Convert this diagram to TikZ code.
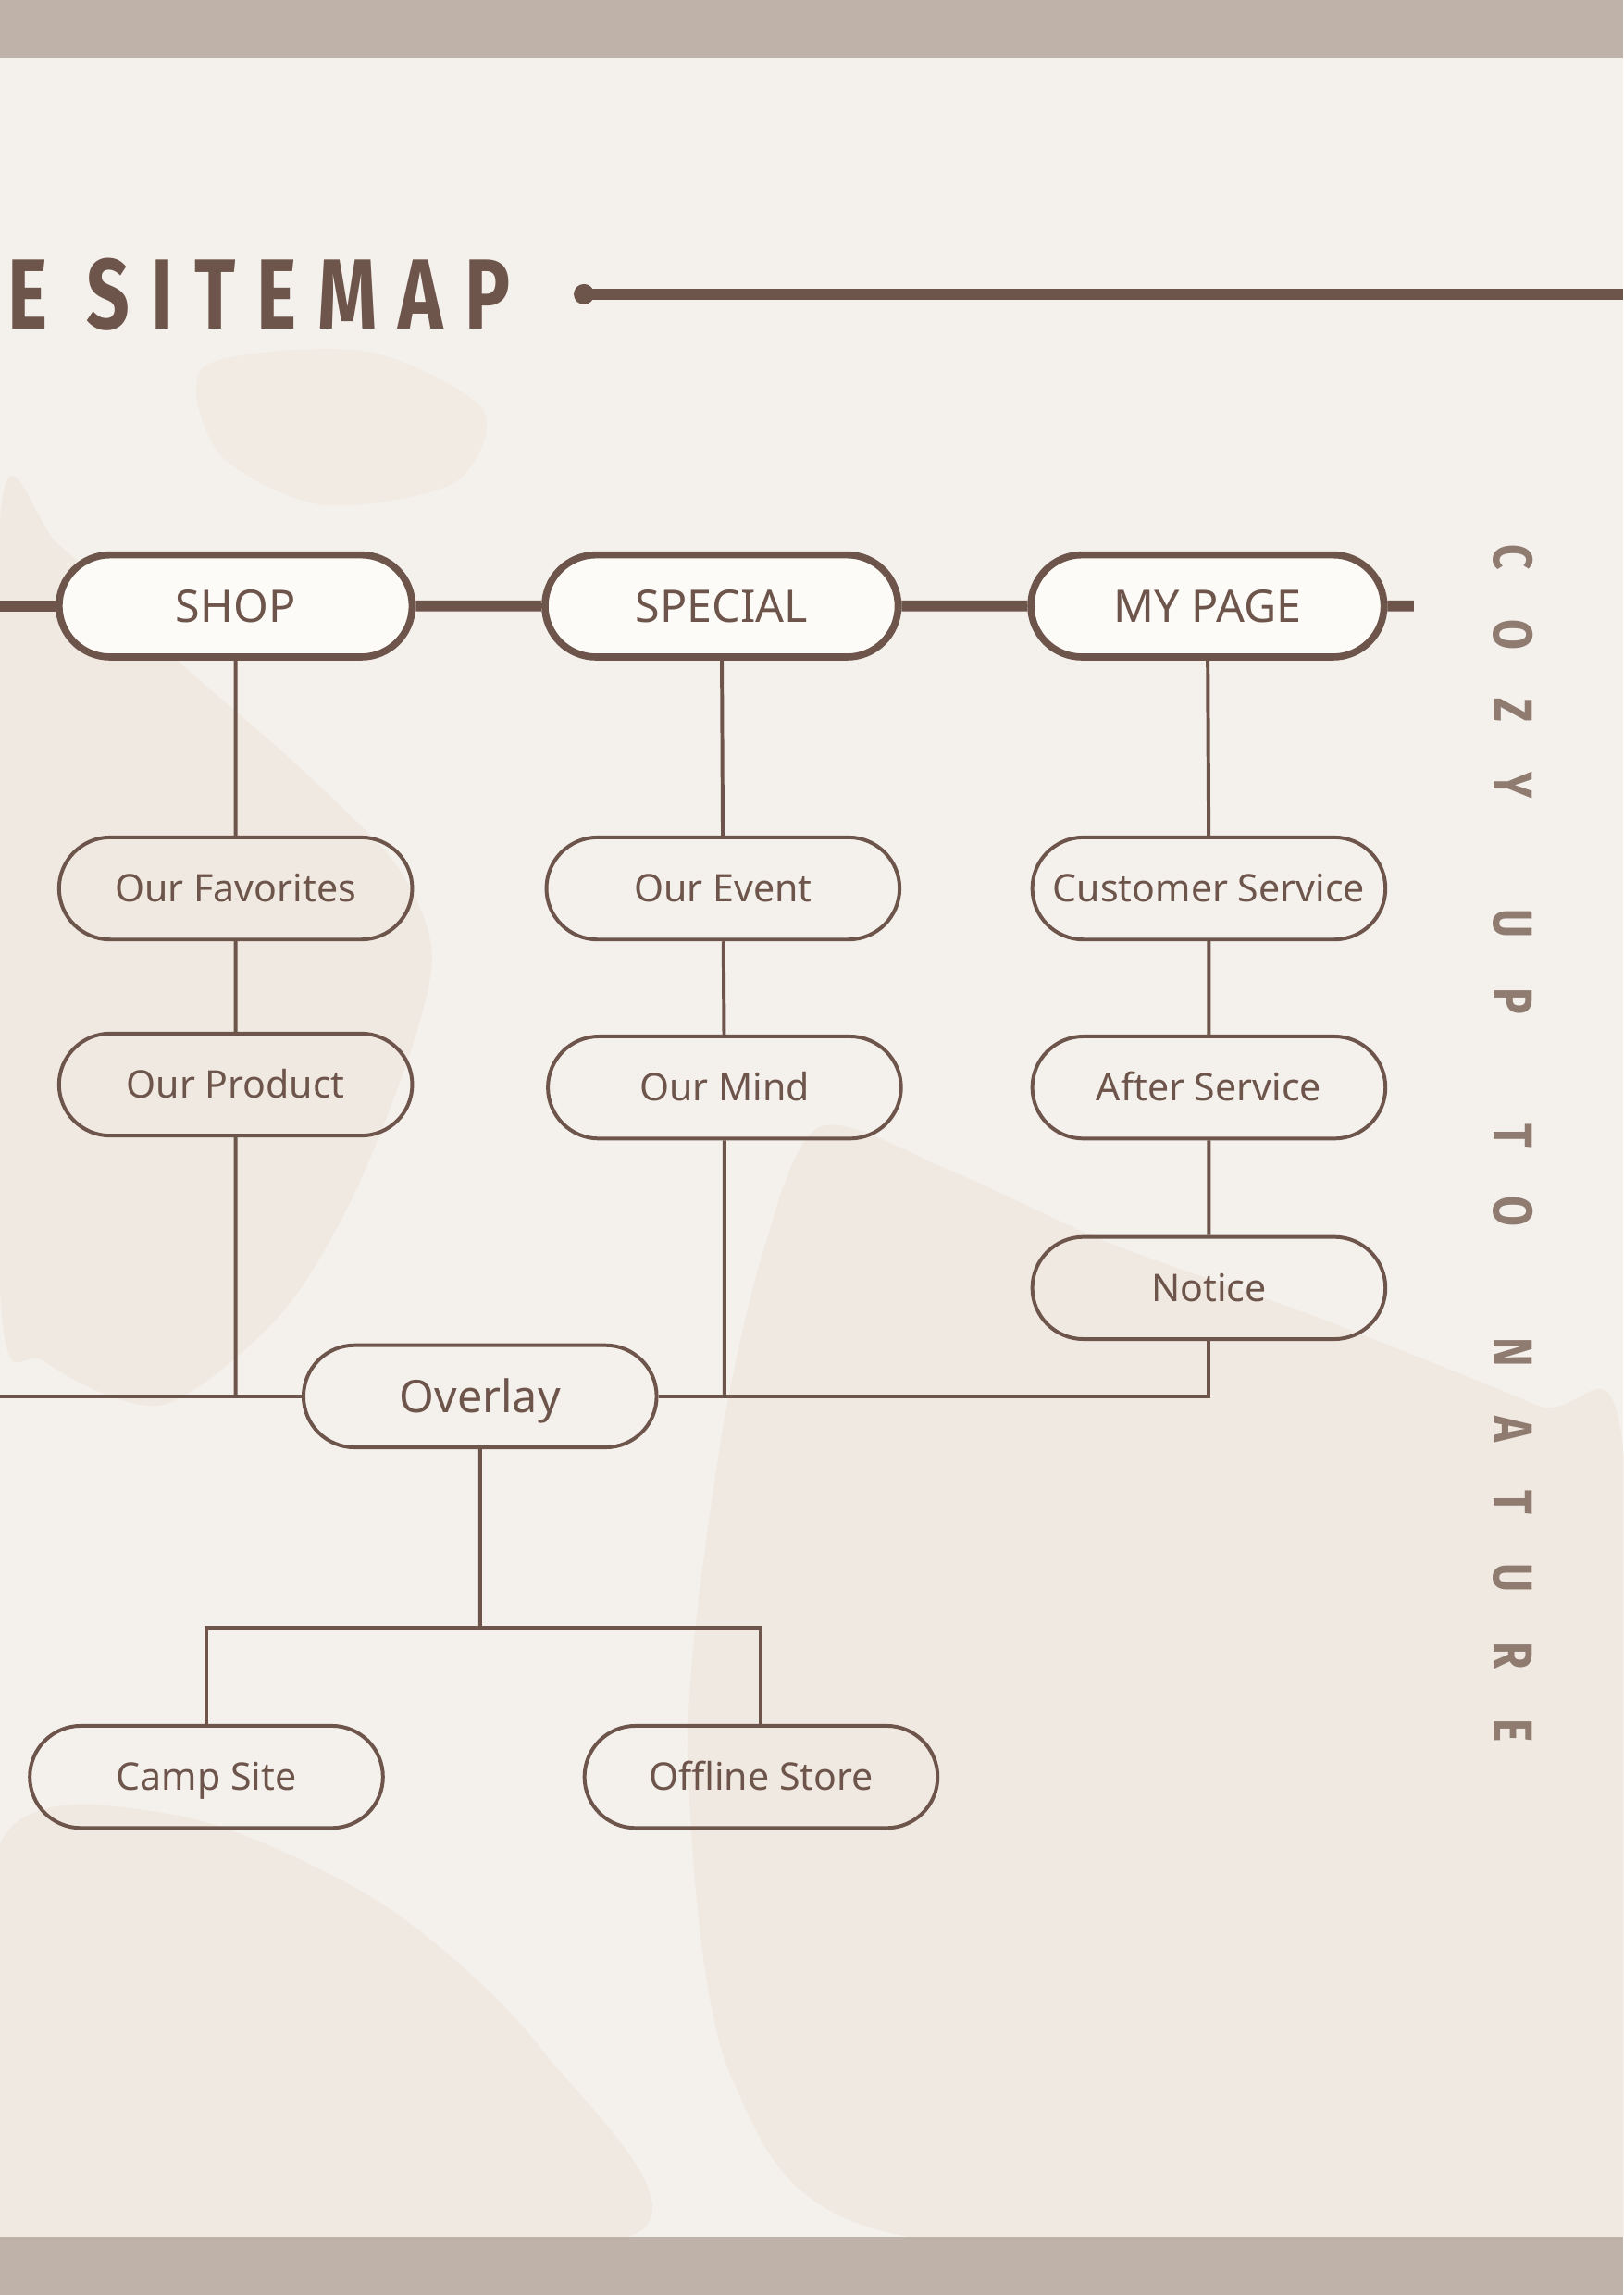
\documentclass[tikz,border=0pt]{standalone}
\usepackage{fontspec}
\usepackage{graphicx}
\setmainfont{Noto Sans}
\newfontfamily\titlefont[LetterSpace=28]{Fira Sans}
\newfontfamily\sidefont[LetterSpace=113]{Fira Sans}
\usetikzlibrary{shapes.misc}
\definecolor{paper}{HTML}{F4F1ED}
\definecolor{stain}{HTML}{EDE1D3}
\definecolor{band}{HTML}{BFB2A8}
\definecolor{bark}{HTML}{6E554B}
\definecolor{fade}{HTML}{8F7B70}
\definecolor{cream}{HTML}{FCFBF8}
\newcommand\wordgap{\hspace{23pt}}

\begin{document}
\begin{tikzpicture}[x=0.018936cm, y=-0.018936cm]
  \tikzstyle{page}=[rounded rectangle, draw=bark, text=bark, line width=1.35pt, minimum width=130pt, minimum height=37.6pt, inner sep=0pt, text height=10pt, text depth=0pt, font=\fontsize{14}{16}\selectfont]
  \tikzstyle{menu}=[line width=2.6pt, fill=cream, text height=11.8pt, font=\fontsize{16.5}{18}\selectfont]
  \tikzstyle{wire}=[draw=bark, line width=1.35pt]
  \tikzstyle{bar}=[draw=bark, line width=4pt]

  % paper and stains
  \useasboundingbox (0,0) rectangle (1109,1568);
  \fill[paper] (0,0) rectangle (1109,1568);
  \fill[stain, opacity=.45] plot[smooth cycle] coordinates {(0,355) (40,372) (120,450) (200,520) (270,590) (295,650) (280,720) (240,820) (190,900) (110,960) (30,930) (0,880)};
  \fill[stain, opacity=.45] plot[smooth cycle] coordinates {(560,770) (650,800) (760,850) (900,900) (1050,960) (1109,990) (1109,1528) (620,1528) (500,1420) (470,1200) (490,1000) (520,860)};
  \fill[stain, opacity=.45] plot[smooth cycle] coordinates {(0,1260) (120,1240) (260,1300) (370,1400) (430,1528) (0,1528)};
  \fill[stain, opacity=.35] plot[smooth cycle] coordinates {(140,250) (250,240) (330,280) (310,330) (220,345) (150,310)};
  \fill[band] (0,0) rectangle (1109,40);
  \fill[band] (0,1528) rectangle (1109,1568);

  % title
  \node[anchor=west, text=bark, inner sep=0pt] (title) at (5,201) {\scalebox{0.76}[1]{\fontsize{36.7}{40}\titlefont\bfseries E SITEMAP}};
  \node[circle, fill=bark, inner sep=0pt, minimum size=7.5pt] (dot) at (399,201) {};
  \coordinate (tend) at (1109,201);
  \draw[bar] (dot.center) -- (tend);

  % menus
  \node[page, menu] (shop)    at (161,414) {SHOP};
  \node[page, menu] (special) at (493,414) {SPECIAL};
  \node[page, menu] (mypage)  at (825,414) {MY PAGE};

  \node[page] (fav)     at (161,607)  {Our Favorites};
  \node[page] (product) at (161,741)  {Our Product};
  \node[page] (event)   at (494,607)  {Our Event};
  \node[page] (mind)    at (495,743)  {Our Mind};
  \node[page] (cs)      at (826,607)  {Customer Service};
  \node[page] (as)      at (826,743)  {After Service};
  \node[page] (notice)  at (826,880)  {Notice};
  \node[page, text height=11.8pt, font=\fontsize{16.5}{18}\selectfont] (overlay) at (328,954) {Overlay};
  \node[page] (camp)    at (141,1214) {Camp Site};
  \node[page] (store)   at (520,1214) {Offline Store};

  \coordinate (rowL) at (0,414);
  \coordinate (rowR) at (966,414);
  \path[bar] (rowL) edge (shop);
  \path[bar] (shop) edge (special);
  \path[bar] (special) edge (mypage);
  \path[bar] (mypage) edge (rowR);

  \path[wire] (shop) edge (fav);
  \path[wire] (fav) edge (product);
  \path[wire] (special) edge (event);
  \path[wire] (event) edge (mind);
  \path[wire] (mypage) edge (cs);
  \path[wire] (cs) edge (as);
  \path[wire] (as) edge (notice);

  \coordinate (lowL) at (0,954);
  \draw[wire] (lowL) -- (overlay);
  \draw[wire] (product) -- (product |- overlay);
  \draw[wire] (mind) -- (mind |- overlay);
  \draw[wire] (overlay) -| (notice);

  \coordinate (fork) at (328,1112);
  \draw[wire] (overlay) -- (fork);
  \draw[wire] (camp) |- (fork) -| (store);

  % side text
  \node[rotate=-90, anchor=west, text=fade, inner sep=0pt] (motto) at (1034,372) {\scalebox{0.8}[1]{\fontsize{20.3}{22}\sidefont\bfseries COZY \wordgap UP \wordgap TO \wordgap NATURE}};
\end{tikzpicture}
\end{document}
